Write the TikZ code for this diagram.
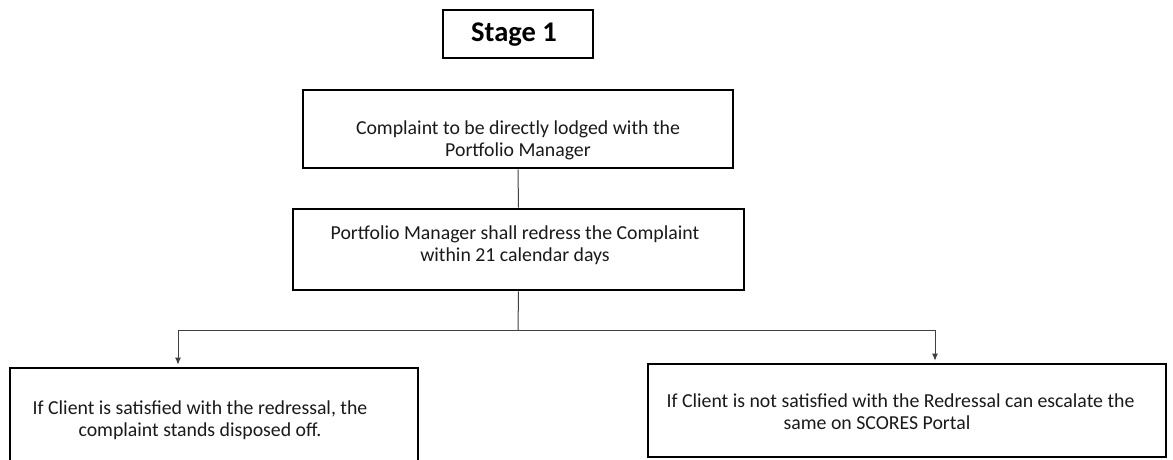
\documentclass[tikz,border=0pt]{standalone}
\usepackage{fontspec}
\setmainfont{Carlito}
\usetikzlibrary{arrows.meta}
\definecolor{txtc}{HTML}{1A1A1A}
\definecolor{linec}{HTML}{404040}
\tikzset{
  boxstyle/.style={draw=black, line width=2.6pt, fill=white, rectangle, inner sep=0pt},
  txtstyle/.style={font=\fontsize{19.8}{22}\selectfont, text=txtc, align=center, inner sep=0pt},
  conn/.style={draw=linec, line width=1pt},
  arr/.style={conn, -{Latex[length=7pt,width=6pt]}, shorten >=2pt}
}
\begin{document}
\begin{tikzpicture}[x=1pt,y=-1pt]
\useasboundingbox (0,0) rectangle (1173,460);
% boxes
\node[boxstyle, minimum width=150pt, minimum height=48pt] (s) at (518,34) {};
\node[font=\fontsize{28.5}{32}\selectfont\bfseries, text=black, inner sep=0pt] (st) at (514,35) {Stage 1};
\node[boxstyle, minimum width=430pt, minimum height=78pt] (b1) at (518,129) {};
\node[txtstyle] (t1) at (518,140) {Complaint to be directly lodged with the\\Portfolio Manager};
\node[boxstyle, minimum width=451pt, minimum height=81pt] (b2) at (518.5,249.5) {};
\node[txtstyle] (t2) at (515,245) {Portfolio Manager shall redress the Complaint\\within 21 calendar days};
\node[boxstyle, minimum width=408pt, minimum height=110pt] (b3) at (214,423) {};
\node[txtstyle] (t3) at (200,420) {If Client is satisfied with the redressal, the\\complaint stands disposed off.};
\node[boxstyle, minimum width=518pt, minimum height=93pt] (b4) at (907,410.5) {};
\node[txtstyle] (t4) at (900.5,412) {If Client is not satisfied with the Redressal can escalate the\\\hspace*{-47pt}same on SCORES Portal};
% connectors
\coordinate (j) at (518,330);
\coordinate (jl) at (178,330);
\coordinate (jr) at (935,330);
\draw[conn] (b1.south) -- (b2.north);
\draw[conn] (b2.south) -- (j);
\draw[arr] (j) -- (jl) -- (jl |- b3.north);
\draw[arr] (j) -- (jr) -- (jr |- b4.north);
\end{tikzpicture}
\end{document}
